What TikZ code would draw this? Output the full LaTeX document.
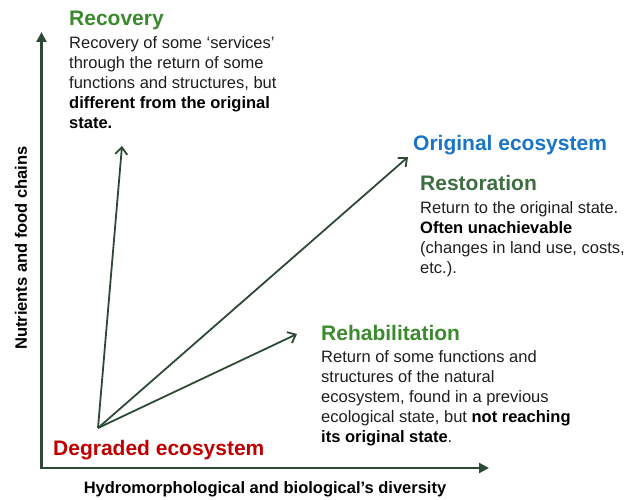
\documentclass[tikz,border=0pt]{standalone}
\usepackage{fontspec}
\setmainfont{Liberation Sans}
\usetikzlibrary{arrows.meta,positioning}
\definecolor{axisgreen}{HTML}{2E4A36}
\definecolor{ttlgreen}{HTML}{3C8A2E}
\definecolor{restgreen}{HTML}{3D6E40}
\definecolor{origblue}{HTML}{1A74C8}
\definecolor{degred}{HTML}{C00000}
\definecolor{bodygray}{HTML}{1E1E1E}
\tikzset{
  % axes and paths
  axis/.style={draw=axisgreen,line width=2.8pt,-{Triangle[length=10pt,width=10pt]}},
  link/.style={draw=axisgreen,line width=1.8pt,-{Straight Barb[length=7pt,width=12pt,line width=1.8pt]}},
  % texts
  ttl/.style={font=\bfseries\fontsize{21}{24}\selectfont,inner sep=0pt,anchor=base west},
  txt/.style={font=\fontsize{16.5}{20}\selectfont,text=bodygray,align=left,inner sep=0pt,anchor=north west},
  axlbl/.style={font=\bfseries\fontsize{16.5}{20}\selectfont,inner sep=0pt}
}
\begin{document}
\begin{tikzpicture}[x=1pt,y=1pt]
  \useasboundingbox (0,0) rectangle (627,499);

  %--- axes
  \coordinate (O)    at (41.5,31);
  \coordinate (ytop) at (41.5,467);
  \coordinate (xend) at (489,31);
  \draw[axis] ([yshift=-1.4pt]O) -- (ytop);
  \draw[axis] ([xshift=-1.4pt]O) -- (xend);
  \node[axlbl,anchor=base] (xlbl) at (265,6) {Hydromorphological and biological’s diversity};
  \node[axlbl,rotate=90] (ylbl) at (21,251) {Nutrients and food chains};

  %--- start point and targets
  \coordinate (start)  at (98,71);
  \coordinate (recTip) at (122,353);
  \coordinate (oriTip) at (408,342);
  \coordinate (rehTip) at (297,165);
  \draw[link] (start) -- (recTip);
  \draw[link] (start) -- (oriTip);
  \draw[link] (start) -- (rehTip);

  %--- labels
  \node[ttl,text=degred] (degr) at (53,44) {Degraded ecosystem};
  \node[ttl,text=origblue] (orig) at (413,348) {Original ecosystem};

  \node[ttl,text=ttlgreen] (recT) at (69,473) {Recovery};
  \node[txt] (recB) at (69,463) {Recovery of some ‘services’\\through the return of some\\functions and structures, but\\\textbf{\color{black}different from the original}\\\textbf{\color{black}state.}};

  \node[ttl,text=restgreen] (resT) at (420,308) {Restoration};
  \node[txt] (resB) at (420,298) {Return to the original state.\\\textbf{\color{black}Often unachievable}\\(changes in land use, costs,\\etc.).};

  \node[ttl,text=ttlgreen] (rehT) at (321,159) {Rehabilitation};
  \node[txt] (rehB) at (321,149) {Return of some functions and\\structures of the natural\\ecosystem, found in a previous\\ecological state, but \textbf{\color{black}not reaching}\\\textbf{\color{black}its original state}.};
\end{tikzpicture}
\end{document}
